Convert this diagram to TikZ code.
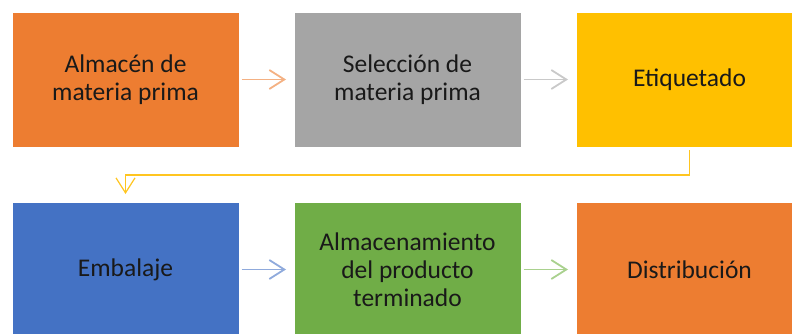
\documentclass[tikz,border=0pt]{standalone}
\usepackage{fontspec}
\setmainfont{Carlito}
\usetikzlibrary{arrows.meta,positioning}

\definecolor{boxorange}{HTML}{ED7D31}
\definecolor{boxgray}{HTML}{A5A5A5}
\definecolor{boxyellow}{HTML}{FFC000}
\definecolor{boxblue}{HTML}{4472C4}
\definecolor{boxgreen}{HTML}{70AD47}
\definecolor{arrorange}{HTML}{F4B183}
\definecolor{arrgray}{HTML}{C9C9C9}
\definecolor{arryellow}{HTML}{FFC520}
\definecolor{arrblue}{HTML}{8FAADC}
\definecolor{arrgreen}{HTML}{A9D18E}

\tikzset{
  stepbox/.style={draw=white, line width=0.8pt, minimum width=227pt, minimum height=135pt,
    outer sep=0pt, align=center, text=black!90,
    font=\fontsize{25.5}{28}\selectfont},
  flow/.style={line width=1.8pt, -{Straight Barb[length=15pt,width=19pt]},
    shorten <=2.5pt, shorten >=8pt}
}

\begin{document}
\begin{tikzpicture}[x=1pt,y=-1pt]
                \useasboundingbox (0,0) rectangle (792,334);
                \clip (0,0) rectangle (792,334);

                % Row 1
                \node[stepbox, fill=boxorange] (almacen) at (125.5,79.5) {Almacén de\\materia prima};
                \node[stepbox, fill=boxgray, right=55pt of almacen] (seleccion) {Selección de\\materia prima};
                \node[stepbox, fill=boxyellow, right=55pt of seleccion] (etiquetado) {Etiquetado};

                % Row 2
                \node[stepbox, fill=boxblue, below=55pt of almacen] (embalaje) {Embalaje};
                \node[stepbox, fill=boxgreen, right=55pt of embalaje] (producto) {Almacenamiento\\del producto\\terminado};
                \node[stepbox, fill=boxorange, right=55pt of producto] (distribucion) {Distribución};

                % Flow
                \draw[flow, arrorange] (almacen) -- (seleccion);
                \draw[flow, arrgray] (seleccion) -- (etiquetado);
                \draw[flow, arryellow, line width=1.2pt, shorten <=3pt] (etiquetado.south) -- ++(0,28) -| (embalaje.north);
                \draw[flow, arrblue] (embalaje) -- (producto);
                \draw[flow, arrgreen] (producto) -- (distribucion);
            \end{tikzpicture}
\end{document}
